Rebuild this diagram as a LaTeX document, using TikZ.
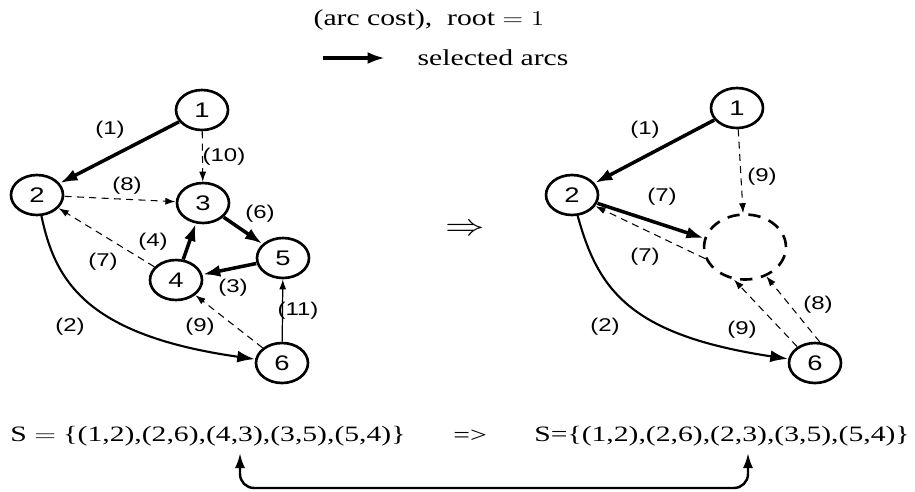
\documentclass[tikz,border=0pt]{standalone}
\usepackage{fontspec}
\setmainfont{Liberation Serif}
\newfontfamily\graphfont{Liberation Sans}
\usetikzlibrary{arrows.meta,shapes.geometric}
\tikzset{
  vertex/.style={
    draw,
    circle,
    line width=1.5pt,
    minimum size=0.8cm,
    inner sep=0pt,
    xscale=1.3,
    font=\graphfont\fontsize{12}{12}\selectfont
  },
  contracted/.style={
    draw,
    circle,
    line width=1.5pt,
    dash pattern=on 7pt off 5pt,
    minimum size=1.3cm,
    inner sep=0pt,
    xscale=1.26
  },
  costlbl/.style={
    inner sep=0pt,
    xscale=1.3,
    font=\graphfont\fontsize{10.5}{10.5}\selectfont
  },
  caption/.style={
    inner sep=0pt,
    xscale=1.3,
    font=\fontsize{13}{13}\selectfont
  },
  settext/.style={
    inner sep=0pt,
    xscale=1.35,
    font=\fontsize{12.5}{12.5}\selectfont
  },
  selarc/.style={-{Latex[length=3.5mm,width=2.4mm]},line width=2pt},
  otharc/.style={-{Latex[length=2mm,width=1.4mm]},line width=0.6pt,dash pattern=on 4pt off 3pt},
  plainarc/.style={-{Latex[length=2mm,width=1.4mm]},line width=0.7pt},
  rootarc/.style={-{Latex[length=3.5mm,width=2.4mm]},line width=1.2pt},
  linkarc/.style={{Latex[length=3mm,width=2mm]}-{Latex[length=3mm,width=2mm]},line width=1.4pt,rounded corners=8pt}
}
\begin{document}
\begin{tikzpicture}[x=0.02cm,y=-0.02cm]
\useasboundingbox (0,0) rectangle (915,491);
% legend
\node[caption] (title) at (429,20) {(arc cost),\ \ root $=1$};
\coordinate (keyA) at (323,58);
\coordinate (keyB) at (385,58);
\draw[selarc] (keyA) -- (keyB);
\node[caption] (keytxt) at (493,58) {selected arcs};

% original graph
\node[vertex] (a1) at (202,110) {1};
\node[vertex] (a2) at (37,195) {2};
\node[vertex] (a3) at (203,203) {3};
\node[vertex] (a4) at (176,280) {4};
\node[vertex] (a5) at (283,258) {5};
\node[vertex] (a6) at (282,363) {6};
\draw[selarc] (a1) -- (a2);
\draw[otharc] (a1) -- (a3);
\draw[otharc] (a2) -- (a3);
\draw[selarc] (a3) -- (a5);
\draw[selarc] (a4) -- (a3);
\draw[selarc] (a5) -- (a4);
\draw[otharc] (a4) -- (a2);
\draw[otharc] (a6) -- (a4);
\draw[plainarc] (a6) -- (a5);
\draw[rootarc] (a2) .. controls (55,280) and (85,335) .. (a6);
\node[costlbl] (c12) at (110,130) {(1)};
\node[costlbl] (c13) at (224,157) {(10)};
\node[costlbl] (c23) at (127,186) {(8)};
\node[costlbl] (c35) at (260,214) {(6)};
\node[costlbl] (c43) at (153,242) {(4)};
\node[costlbl] (c42) at (103,262) {(7)};
\node[costlbl] (c54) at (233,288) {(3)};
\node[costlbl] (c64) at (200,327) {(9)};
\node[costlbl] (c65) at (298,311) {(11)};
\node[costlbl] (c26) at (70,327) {(2)};

\node[font=\fontsize{16}{16}\selectfont,xscale=1.3] (implies) at (465,230) {$\Rightarrow$};

% graph with the cycle contracted
\node[vertex] (b1) at (737,108) {1};
\node[vertex] (b2) at (572,195) {2};
\node[contracted] (cyc) at (745,247) {};
\node[vertex] (b6) at (815,363) {6};
\draw[selarc] (b1) -- (b2);
\draw[otharc] (b1) -- (cyc);
\draw[selarc] (b2) -- (cyc.165);
\draw[otharc] (cyc.200) -- (b2);
\draw[otharc] (b6.130) -- (cyc.255);
\draw[otharc] (b6.80) -- (cyc.300);
\draw[rootarc] (b2) .. controls (598,290) and (630,335) .. (b6);
\node[costlbl] (d12) at (645,130) {(1)};
\node[costlbl] (d1c) at (762,177) {(9)};
\node[costlbl] (d2c) at (662,197) {(7)};
\node[costlbl] (dc2) at (645,257) {(7)};
\node[costlbl] (d6c) at (818,305) {(8)};
\node[costlbl] (d6cb) at (742,330) {(9)};
\node[costlbl] (d26) at (605,327) {(2)};

% arc sets
\node[settext] (sold) at (208,436) {S $=$ \{(1,2),(2,6),(4,3),(3,5),(5,4)\}};
\node[settext] (sarrow) at (470,436) {=>};
\node[settext] (snew) at (722,436) {S=\{(1,2),(2,6),(2,3),(3,5),(5,4)\}};
\coordinate (ltip) at (240,453);
\coordinate (rtip) at (748,453);
\draw[linkarc] (ltip) -- (240,488) -- (748,488) -- (rtip);
\end{tikzpicture}
\end{document}
